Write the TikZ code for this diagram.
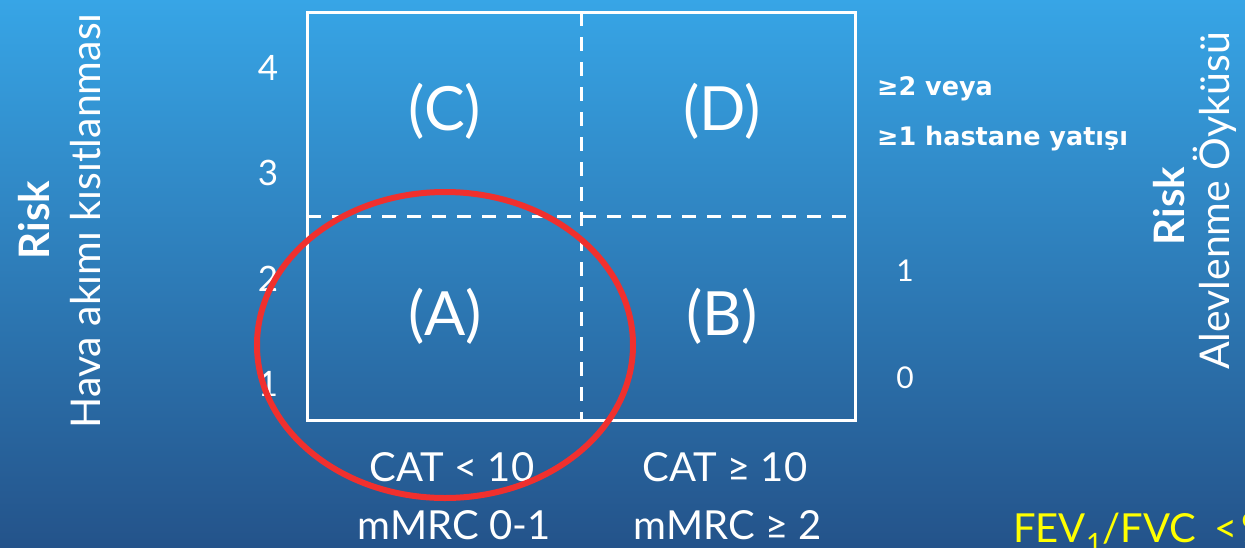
\documentclass[tikz,border=0pt]{standalone}
\usepackage{fontspec}
\setmainfont{Lato}
\newfontfamily\heavyfont{DejaVu Sans}
\definecolor{skytop}{HTML}{37A5E6}
\definecolor{skybot}{HTML}{24538A}
\definecolor{ringred}{HTML}{F0302E}
\definecolor{ratioyellow}{HTML}{FFFF00}
\tikzset{
  every node/.style={text=white, inner sep=0pt},
  gridline/.style={white, line width=3pt},
  divider/.style={white, line width=3pt, dash pattern=on 14pt off 11pt},
  cell/.style={font=\fontsize{61}{62}\selectfont},
  tick/.style={font=\fontsize{35}{36}\selectfont},
  smalltick/.style={font=\fontsize{30}{32}\selectfont},
  flag/.style={anchor=base west, font=\heavyfont\bfseries\fontsize{25.5}{27}\selectfont},
  axisnote/.style={font=\fontsize{40}{42}\selectfont},
  sidetitle/.style={rotate=90, anchor=base, font=\bfseries\fontsize{42}{44}\selectfont},
  sidename/.style={rotate=90, anchor=base, font=\fontsize{41}{43}\selectfont},
  ring/.style={ringred, line width=6pt}
}
\begin{document}
\begin{tikzpicture}[x=1pt,y=-1pt]
  \useasboundingbox (0,0) rectangle (1245,547);
  \clip (0,0) rectangle (1245,547);
  \fill[top color=skytop, bottom color=skybot] (0,0) rectangle (1245,547);

  % grid
  \coordinate (nw) at (307,12);
  \coordinate (se) at (855,420);
  \coordinate (midtop) at (581,12);
  \coordinate (midbot) at (581,420);
  \coordinate (midleft) at (307,216);
  \coordinate (midright) at (855,216);
  \draw[gridline] (nw) rectangle (se);
  \draw[divider] (midtop) -- (midbot);
  \draw[divider] (midleft) -- (midright);

  \node[cell] (cellC) at (445,111) {(C)};
  \node[cell] (cellD) at (722,111) {(D)};
  \node[cell] (cellA) at (445,316) {(A)};
  \node[cell] (cellB) at (722,316) {(B)};

  % left scale
  \node[tick] (lv4) at (268,68) {4};
  \node[tick] (lv3) at (268,173) {3};
  \node[tick] (lv2) at (268,279) {2};
  \node[tick] (lv1) at (268,384) {1};

  % right scale
  \node[flag] (hi1) at (877,95) {≥2 veya};
  \node[flag] (hi2) at (877,145) {≥1 hastane yatışı};
  \node[smalltick] (rv1) at (905,271) {1};
  \node[smalltick] (rv0) at (905,378) {0};

  % bottom
  \node[axisnote] (catlow) at (452,467) {CAT < 10};
  \node[axisnote] (mmrclow) at (454,525) {mMRC 0-1};
  \node[axisnote] (cathigh) at (725,467) {CAT ≥ 10};
  \node[axisnote] (mmrchigh) at (728,525) {mMRC ≥ 2};

  % side titles
  \node[sidetitle] (riskleft) at (49,220) {Risk};
  \node[sidename] (airflow) at (100,221) {Hava akımı kısıtlanması};
  \node[sidetitle] (riskright) at (1184,206) {Risk};
  \node[sidename] (flare) at (1229,201) {Alevlenme Öyküsü};

  \node[anchor=base west, text=ratioyellow, font=\fontsize{40}{42}\selectfont] (ratio) at (1013,542) {FEV\textsubscript{1}/FVC\hspace{0.45em}<\hspace{0.1em}\%70};

  \draw[ring] (445,345) ellipse [x radius=188pt, y radius=153pt];
\end{tikzpicture}
\end{document}
